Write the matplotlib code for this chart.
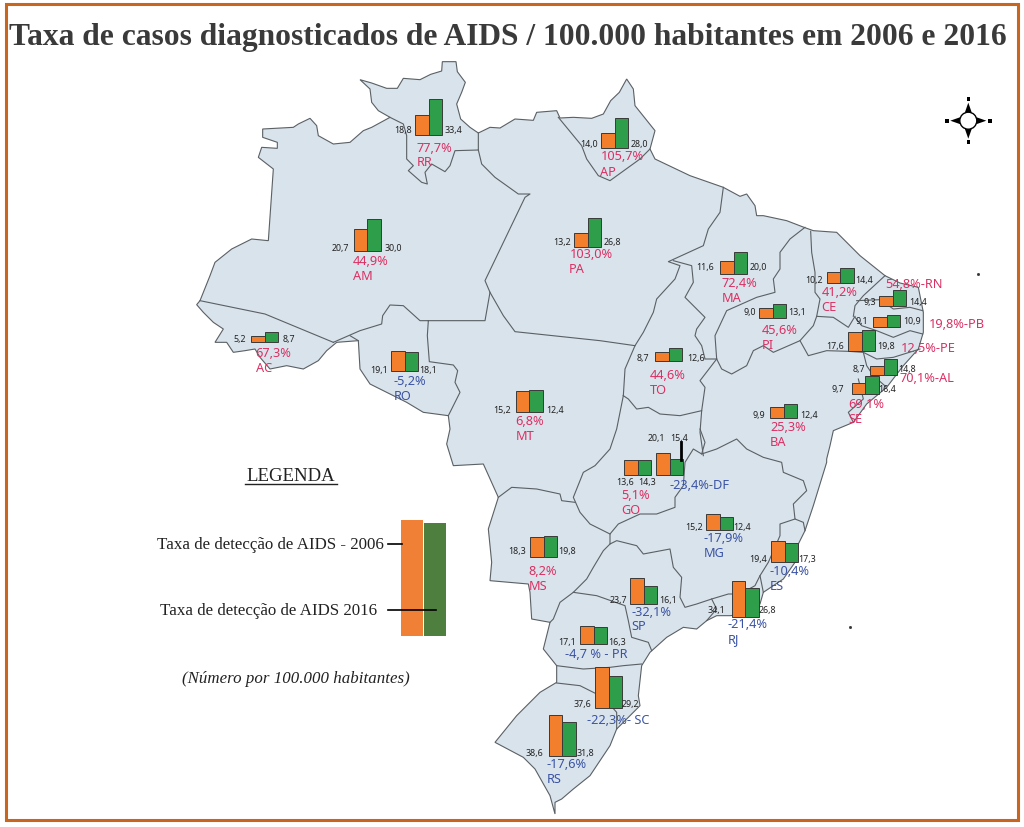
import matplotlib
matplotlib.use("Agg")
import matplotlib.pyplot as plt
from matplotlib.patches import Polygon, Rectangle, Circle

# state data
states = ["RR", "AM", "AC", "RO", "MT", "PA", "AP", "MA", "PI", "CE", "RN", "PB", "PE", "AL", "SE", "BA",
          "TO", "DF", "GO", "MG", "ES", "RJ", "SP", "MS", "PR", "SC", "RS"]
# printed numbers
labels_2006 = ["18,8", "20,7", "5,2", "19,1", "15,2", "13,2", "14,0", "11,6", "9,0", "10,2", "9,3", "9,1", "17,6", "8,7",
               "9,7", "9,9", "8,7", "20,1", "13,6", "15,2", "19,4", "34,1", "23,7", "18,3", "17,1", "37,6", "38,6"]
labels_2016 = ["33,4", "30,0", "8,7", "18,1", "12,4", "26,8", "28,0", "20,0", "13,1", "14,4", "14,4", "10,9", "19,8", "14,8",
               "16,4", "12,4", "12,6", "15,4", "14,3", "12,4", "17,3", "26,8", "16,1", "19,8", "16,3", "29,2", "31,8"]
# bar heights (MT bars are drawn taller than its printed numbers)
rate_2006 = [18.8, 20.7, 5.2, 19.1, 19.4, 13.2, 14.0, 11.6, 9.0, 10.2, 9.3, 9.1, 17.6, 8.7,
             9.7, 9.9, 8.7, 20.1, 13.6, 15.2, 19.4, 34.1, 23.7, 18.3, 17.1, 37.6, 38.6]
rate_2016 = [33.4, 30.0, 8.7, 18.1, 20.7, 26.8, 28.0, 20.0, 13.1, 14.4, 14.4, 10.9, 19.8, 14.8,
             16.4, 12.4, 12.6, 15.4, 14.3, 12.4, 17.3, 26.8, 16.1, 19.8, 16.3, 29.2, 31.8]
change_labels = ["77,7%", "44,9%", "67,3%", "-5,2%", "6,8%", "103,0%", "105,7%", "72,4%", "45,6%", "41,2%", "54,8%-RN",
                 "19,8%-PB", "12,5%-PE", "70,1%-AL", "69,1%", "25,3%", "44,6%", "-23,4%-DF", "5,1%", "-17,9%", "-10,4%",
                 "-21,4%", "-32,1%", "8,2%", "-4,7 % - PR", "-22,3%- SC", "-17,6%"]
inline_name = {"RN", "PB", "PE", "AL", "DF", "PR", "SC"}

# anchors in image pixels: bar left, baseline, label 2006, label 2016, change label, state name
layout = {
    "RR": (415, 136, (402.7, 130), (453, 130), (416.7, 148), (416.7, 163)),
    "AM": (353.7, 252, (340.7, 248.7), (393, 248.7), (353, 262), (353, 277)),
    "AC": (251, 342.7, (239.3, 340), (289.3, 340), (255, 354), (255.7, 369)),
    "RO": (391, 372, (379.3, 370.3), (427.7, 370.3), (394, 382), (394, 397)),
    "MT": (515.7, 413, (502, 410.3), (555, 410.3), (515.7, 422), (515.7, 437)),
    "PA": (574, 247.7, (561.7, 242.7), (612.3, 242.7), (570, 255), (569, 270)),
    "AP": (601, 149, (589, 145), (639.3, 145), (601, 157), (600, 172)),
    "MA": (720, 274.7, (705.3, 267.7), (758, 267.7), (722, 284), (722, 299)),
    "PI": (759, 319, (749.3, 312.3), (797.3, 312.3), (761.7, 331), (761.7, 346)),
    "CE": (826.7, 284.3, (813.7, 281), (864, 281), (821.7, 293), (821, 308)),
    "RN": (879, 306.7, (870, 303), (918.3, 303), (885, 285), None),
    "PB": (873, 328, (861.7, 321.7), (911.7, 321.7), (929.3, 325), None),
    "PE": (848, 352, (835, 346.3), (885.7, 346.3), (901, 349), None),
    "AL": (870, 376, (858.7, 370), (907, 370), (900, 378.3), None),
    "SE": (851.7, 394.7, (838, 390), (886.7, 390), (848.3, 405), (848.3, 420)),
    "BA": (770, 418.7, (759, 416), (809.3, 416), (770, 428), (770, 443)),
    "TO": (655, 362, (643.3, 358.3), (695.7, 358.3), (650, 376), (650, 391)),
    "DF": (656, 476, (656.7, 439), (678.7, 439), (669.3, 486), None),
    "GO": (624, 476, (625, 482.7), (646.7, 482.7), (621.7, 496), (621.7, 511)),
    "MG": (706, 531, (694, 527.7), (741.7, 527.7), (703.3, 539), (703.3, 554)),
    "ES": (771, 563, (758.3, 559.7), (806.7, 559.7), (770, 572), (770, 587)),
    "RJ": (731.7, 618, (716.7, 610.7), (767, 610.7), (727.7, 625), (727.7, 640)),
    "SP": (630, 604.7, (618.3, 601), (668.3, 601), (631, 613), (631, 627)),
    "MS": (530, 558, (516.7, 551.7), (567.3, 551.7), (528.3, 572), (528.3, 587)),
    "PR": (580, 645, (566.7, 642.7), (617, 642.7), (565, 655), None),
    "SC": (595, 708.7, (582.7, 705), (630.7, 705), (586.7, 720.7), None),
    "RS": (548.7, 757, (534.7, 753.3), (585, 753.3), (546.7, 765), (546.7, 780)),
}

ORANGE = "#F37F2C"
GREEN = "#2F9E4A"
PINK = "#DC2F63"
BLUE = "#3A53A4"
LAND = "#D9E3EB"
LINE = "#5A6064"
FRAME = "#C8651F"
PX_PER_UNIT = 1.07
BAR_W = 13.7


def nw(pts):
    return [(190 + x / 3, 50 + y / 3) for x, y in pts]


def ne(pts):
    return [(600 + x / 3, 80 + y / 3) for x, y in pts]


def south(pts):
    return [(440 + x / 3, 430 + y / 3) for x, y in pts]


# country outline, traced clockwise from the west tip of Roraima
outline = (
    nw([(510, 92), (545, 102), (590, 118), (622, 118), (640, 88), (690, 92), (722, 76), (755, 66), (757, 38), (798, 38),
        (802, 68), (826, 100), (815, 130), (800, 165), (812, 210), (840, 235), (865, 252), (900, 235), (930, 237),
        (975, 210), (1030, 214), (1040, 190), (1100, 185), (1110, 207), (1150, 205), (1205, 208), (1240, 195), (1262, 155)])
    + ne([(58, 40), (80, 0), (100, 30), (105, 80), (165, 155), (150, 210), (165, 240), (270, 290), (370, 325), (420, 352),
          (440, 345), (465, 380), (470, 410), (490, 410), (560, 425), (612, 445), (640, 455), (710, 460), (780, 530),
          (855, 590), (900, 612), (955, 625), (970, 700), (970, 760), (955, 810), (910, 860), (860, 925), (800, 975),
          (760, 1030), (700, 1055), (690, 1100), (680, 1140)])
    + south([(1160, 100), (1120, 230), (1095, 305), (1075, 345), (1065, 400), (1030, 450), (970, 490), (960, 525),
             (930, 555), (870, 560), (830, 560), (800, 575), (770, 600), (730, 595), (680, 625), (630, 670), (605, 710),
             (595, 800), (600, 830), (570, 860), (530, 900), (510, 950), (450, 1040), (400, 1080), (365, 1110),
             (345, 1120), (345, 1155), (330, 1100), (285, 1020), (250, 985), (165, 940), (230, 860), (300, 790),
             (350, 760), (350, 710), (310, 660), (330, 580), (275, 570), (270, 490), (265, 465), (150, 455), (155, 400),
             (145, 300), (175, 205), (130, 105), (40, 110), (20, 45), (30, 0)])
    + nw([(775, 1100), (700, 1090), (650, 1060), (590, 1030), (540, 1005), (510, 960), (505, 875), (440, 880),
          (410, 905), (385, 935), (340, 960), (290, 950), (240, 960), (210, 925), (195, 900), (165, 905), (130, 910),
          (110, 880), (75, 880), (100, 840), (70, 820), (40, 790), (20, 767), (30, 755), (60, 680), (75, 640), (125, 600),
          (185, 570), (235, 575), (250, 360), (205, 325), (215, 295), (262, 298), (262, 280), (218, 265), (218, 240),
          (310, 235), (325, 225), (360, 208), (380, 230), (385, 260), (430, 285), (480, 280), (520, 245), (545, 235),
          (600, 205), (565, 185), (545, 160), (540, 120)])
)

# state borders inside the outline
borders = [
    nw([(600, 205), (640, 225), (650, 260), (650, 330), (670, 350), (655, 365), (695, 400), (712, 405), (705, 370),
        (725, 345), (765, 368), (780, 350), (795, 305), (865, 303), (865, 252)]),
    nw([(865, 303), (875, 345), (915, 385), (985, 435), (1020, 435), (1005, 445), (885, 695), (900, 730), (885, 815), (715, 815)]),
    nw([(715, 815), (690, 815), (640, 770), (600, 768), (578, 800), (575, 825), (510, 845), (430, 880)]),
    nw([(30, 755), (225, 795), (430, 880)]),
    nw([(505, 875), (480, 860)]),
    nw([(715, 815), (712, 860), (718, 938), (790, 948), (803, 965), (795, 1000), (810, 1030), (795, 1060), (775, 1100)]),
    nw([(900, 730), (940, 800), (975, 848)]) + ne([(0, 785), (105, 800)]),
    ne([(150, 210), (120, 240), (30, 305), (-5, 290), (-40, 240)]) + nw([(1175, 290), (1105, 205)]),
    ne([(370, 325), (360, 400), (325, 450), (310, 500), (205, 548), (240, 560), (225, 600), (170, 660), (160, 700),
        (130, 760), (105, 800), (75, 870), (70, 950)]),
    ne([(220, 545), (275, 560), (280, 610), (255, 655), (315, 715), (290, 750), (285, 770), (305, 800), (315, 840), (350, 840)]),
    ne([(70, 950), (85, 960), (110, 990), (145, 985), (180, 1005), (240, 1010), (305, 995)]),
    ne([(350, 840), (300, 905), (315, 925), (305, 995), (300, 1060), (310, 1130)]),
    ne([(615, 445), (570, 480), (540, 520), (540, 570), (520, 600), (525, 640), (470, 655), (380, 695), (345, 770), (350, 840),
        (365, 870), (395, 885), (440, 860), (460, 815), (490, 800), (520, 820), (600, 785), (640, 740), (650, 712)]),
    ne([(632, 457), (635, 520), (645, 580), (645, 640), (660, 660), (650, 712), (700, 715), (745, 745), (765, 712)]),
    ne([(855, 590), (790, 650), (765, 680), (760, 712)]),
    ne([(770, 665), (840, 662), (880, 690), (930, 685), (968, 695)]),
    ne([(765, 715), (785, 740), (830, 755), (880, 775), (930, 755), (968, 765)]),
    ne([(600, 785), (625, 830), (680, 815), (745, 817), (790, 820), (830, 840), (880, 835), (960, 810)]),
    ne([(790, 820), (800, 860), (820, 890), (860, 925)]),
    ne([(775, 900), (790, 960), (745, 1000), (760, 1030)]),
    south([(780, 0), (795, 40), (785, 75), (830, 60), (890, 30), (920, 60), (970, 85), (1025, 100), (1030, 130), (1090, 155),
           (1100, 185), (1060, 225), (1065, 270), (1090, 280), (1095, 305)]),
    south([(1065, 270), (1020, 285), (1020, 320), (985, 400), (960, 440), (945, 470), (900, 495), (865, 495), (815, 510),
           (770, 525), (735, 535), (720, 505), (725, 445), (700, 415), (690, 360), (610, 375), (590, 350), (530, 335),
           (510, 345), (510, 315), (535, 285), (600, 255), (650, 255), (705, 235), (705, 205), (730, 170), (735, 100),
           (760, 60), (785, 75)]),
    south([(960, 440), (970, 490)]),
    south([(815, 510), (830, 540), (800, 575)]),
    south([(510, 315), (450, 285), (420, 250), (400, 205), (430, 130), (465, 110), (510, 60), (530, 0)]) + ne([(70, 950)]),
    south([(175, 205), (215, 175), (290, 180), (360, 195), (365, 215), (405, 220)]),
    south([(510, 345), (490, 365), (460, 415), (440, 450), (400, 490), (360, 520), (340, 570), (330, 580)]),
    south([(400, 490), (470, 500), (555, 530), (565, 575), (575, 625), (625, 640), (635, 665)]),
    south([(350, 710), (430, 720), (510, 715), (550, 710), (605, 705)]),
    south([(350, 762), (420, 770), (490, 805), (530, 850), (530, 900)]),
]

fig = plt.figure(figsize=(10.24, 8.28), dpi=100)
ax = fig.add_axes([0, 0, 1, 1])
ax.set_xlim(0, 1024)
ax.set_ylim(828, 0)
ax.axis("off")

ax.add_patch(Rectangle((5.5, 4.5), 1012, 817, fill=False, edgecolor=FRAME, linewidth=2.2))
ax.text(508, 38, "Taxa de casos diagnosticados de AIDS / 100.000 habitantes em 2006 e 2016", family="Liberation Serif",
        weight="bold", fontsize=22.7, color="#3A3A3A", ha="center", va="center")

# map
ax.add_patch(Polygon(outline, closed=True, facecolor=LAND, edgecolor=LINE, linewidth=0.8, zorder=1))
for border in borders:
    ax.plot([p[0] for p in border], [p[1] for p in border], color=LINE, linewidth=0.8, zorder=2)

# bars and labels of every state
for i, st in enumerate(states):
    bar_x, base, lab_a, lab_b, lab_c, lab_n = layout[st]
    h_a = rate_2006[i] * PX_PER_UNIT
    h_b = rate_2016[i] * PX_PER_UNIT
    ax.bar(bar_x, h_a, bottom=base - h_a, width=BAR_W, align="edge", color=ORANGE, edgecolor="#3A3A3A", linewidth=0.7, zorder=3)
    ax.bar(bar_x + BAR_W, h_b, bottom=base - h_b, width=BAR_W, align="edge", color=GREEN, edgecolor="#3A3A3A", linewidth=0.7, zorder=3)
    ax.text(lab_a[0], lab_a[1], labels_2006[i], family="Noto Sans", fontsize=6.4, color="#222222", ha="center", va="center", zorder=4)
    ax.text(lab_b[0], lab_b[1], labels_2016[i], family="Noto Sans", fontsize=6.4, color="#222222", ha="center", va="center", zorder=4)
    color = BLUE if change_labels[i].startswith("-") else PINK
    ax.text(lab_c[0], lab_c[1], change_labels[i], family="Noto Sans", fontsize=9.2, color=color, ha="left", va="center", zorder=4)
    if st not in inline_name:
        ax.text(lab_n[0], lab_n[1], st, family="Noto Sans", fontsize=9.2, color=color, ha="left", va="center", zorder=4)

# leader from the DF number down to its bar
ax.plot([680.5, 680.5], [443, 461], color="black", linewidth=2, zorder=4)

# legend
ax.text(291, 477, "LEGENDA", family="Liberation Serif", fontsize=13.5, color="#222222", ha="center", va="center")
ax.plot([245, 337], [484.5, 484.5], color="#222222", linewidth=1)
ax.add_patch(Rectangle((401, 521), 21.5, 116, facecolor="#F08035", edgecolor="none"))
ax.add_patch(Rectangle((424, 524), 21.5, 113, facecolor="#4F7F3F", edgecolor="none"))
ax.text(157, 545, "Taxa de detecção de AIDS - 2006", family="Liberation Serif", fontsize=12.15, color="#222222", ha="left", va="center")
ax.text(160, 611, "Taxa de detecção de AIDS 2016", family="Liberation Serif", fontsize=12.2, color="#222222", ha="left", va="center")
ax.text(182, 679, "(Número por 100.000 habitantes)", family="Liberation Serif", style="italic", fontsize=12.2, color="#222222", ha="left", va="center")
ax.plot([388, 402], [545, 545], color="black", linewidth=1.2, zorder=3)
ax.plot([388, 436], [611, 611], color="black", linewidth=1.2, zorder=3)

# compass
cx, cy = 968.3, 121.7
for dx, dy in [(0, -1), (0, 1), (-1, 0), (1, 0)]:
    tip = (cx + 18 * dx, cy + 18 * dy)
    left = (cx + 8 * dx - 3.5 * dy, cy + 8 * dy + 3.5 * dx)
    right = (cx + 8 * dx + 3.5 * dy, cy + 8 * dy - 3.5 * dx)
    ax.add_patch(Polygon([tip, left, right], closed=True, facecolor="black", edgecolor="none"))
    ax.add_patch(Rectangle((cx + 21.5 * dx - 1.8, cy + 21.5 * dy - 1.8), 3.6, 3.6, facecolor="black", edgecolor="none"))
ax.add_patch(Circle((cx, cy), 8.5, facecolor="white", edgecolor="black", linewidth=1, zorder=3))

# stray specks of the scan
ax.plot([978, 850], [275, 628], linestyle="none", marker="s", markersize=1, color="#333333")

fig.savefig("out.png", dpi=100)
